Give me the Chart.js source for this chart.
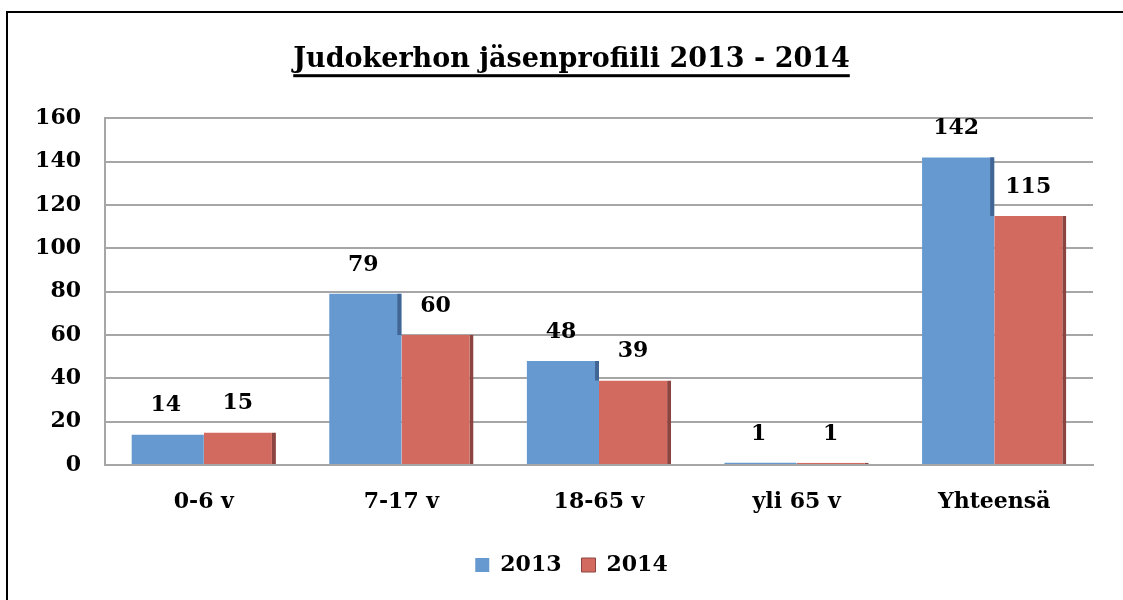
<!DOCTYPE html>
<html lang="fi">

<head>
    <meta charset="UTF-8">
    <title>Judokerhon jäsenprofiili</title>
    <script src="https://cdn.jsdelivr.net/npm/chart.js"></script>
    <style>
        html,
        body {
            margin: 0;
            overflow: hidden;
            background: #fff;
        }

        #jasenet {
            display: block;
        }
    </style>
</head>

<body>
    <canvas id="jasenet" width="1123" height="600"></canvas>
</body>

</html>

<script>
    var otsikko = 'Judokerhon jäsenprofiili 2013 - 2014';
    var ikaryhmat = ['0-6 v', '7-17 v', '18-65 v', 'yli 65 v', 'Yhteensä'];
    var vuodet = ['2013', '2014'];
    var jasenet2013 = [14, 79, 48, 1, 142];
    var jasenet2014 = [15, 60, 39, 1, 115];
    var yMax = 160;
    var yAskel = 20;

    var fontti = "'DejaVu Serif', serif";
    Chart.defaults.font.family = fontti;
    Chart.defaults.color = '#000';

    var sininen = '#6699cf';
    var sininenReuna = '#416594';
    var punainen = '#d36a60';
    var punainenReuna = '#8c4440';

    // musta kehys vasemmalla ja ylhäällä
    var kehys = {
        id: 'kehys',
        beforeDraw: function (chart) {
            var ctx = chart.ctx;
            ctx.save();
            ctx.fillStyle = '#000';
            ctx.fillRect(6, 11, 2, chart.height - 11);
            ctx.fillRect(6, 11, chart.width - 6, 2);
            ctx.restore();
        }
    }

    // alleviivaus otsikon alle
    var alleviivaus = {
        id: 'alleviivaus',
        afterDraw: function (chart) {
            var tb = chart.titleBlock;
            var ctx = chart.ctx;
            var opts = chart.options.plugins.title;
            ctx.save();
            ctx.font = 'bold ' + opts.font.size + 'px ' + fontti;
            var leveys = ctx.measureText(otsikko).width;
            var keski = (tb.left + tb.right) / 2;
            var y = tb.top + opts.padding.top + opts.font.size * 1.2 / 2 + 14;
            ctx.fillStyle = '#000';
            ctx.fillRect(keski - leveys / 2, y, leveys, 3);
            ctx.restore();
        }
    }

    // sinisen pylvään tumma reuna näkyy vain punaisen yläpuolella + arvot
    var arvot = {
        id: 'arvot',
        afterDatasetsDraw: function (chart) {
            var ctx = chart.ctx;
            var m0 = chart.getDatasetMeta(0);
            var m1 = chart.getDatasetMeta(1);
            ctx.save();
            for (var i = 0; i < m0.data.length; i++) {
                var b = m0.data[i];
                var r = m1.data[i];
                if (b.y < r.y) {
                    ctx.fillStyle = sininenReuna;
                    ctx.fillRect(b.x + b.width / 2 - 4, b.y, 4, r.y - b.y);
                }
            }
            ctx.font = 'bold 22px ' + fontti;
            ctx.textAlign = 'center';
            ctx.textBaseline = 'middle';
            ctx.fillStyle = '#000';
            chart.data.datasets.forEach(function (ds, d) {
                chart.getDatasetMeta(d).data.forEach(function (el, i) {
                    ctx.fillText(ds.data[i], el.x - 2, el.y - 29);
                })
            })
            ctx.restore();
        }
    }

    var ctx = document.getElementById('jasenet');
    var kaavio = new Chart(ctx, {
        type: 'bar',
        data: {
            labels: ikaryhmat,
            datasets: [{
                label: vuodet[0],
                data: jasenet2013,
                backgroundColor: sininen,
                borderWidth: 0
            }, {
                label: vuodet[1],
                data: jasenet2014,
                backgroundColor: punainen,
                borderColor: punainenReuna,
                borderWidth: { top: 0, right: 4, bottom: 0, left: 0 }
            }]
        },
        options: {
            responsive: false,
            animation: false,
            // vasen 20 siirtää otsikon ja selitteen keskelle kuten alkuperäisessä
            layout: {
                padding: { top: 13, right: 0, bottom: 14, left: 20 }
            },
            datasets: {
                bar: {
                    categoryPercentage: 0.73,
                    barPercentage: 1
                }
            },
            plugins: {
                tooltip: { enabled: false },
                title: {
                    display: true,
                    text: otsikko,
                    font: { size: 27, weight: 'bold' },
                    color: '#000',
                    padding: { top: 31, bottom: 42 }
                },
                legend: {
                    position: 'bottom',
                    labels: {
                        boxWidth: 14,
                        boxHeight: 14,
                        padding: 20,
                        font: { size: 22, weight: 'bold' },
                        color: '#000'
                    }
                }
            },
            scales: {
                x: {
                    grid: { display: false, drawTicks: false },
                    border: { display: true, color: '#a6a6a6', width: 2 },
                    ticks: {
                        padding: 24,
                        font: { size: 22, weight: 'bold' },
                        color: '#000'
                    },
                    afterFit: function (s) { s.height = 69 }
                },
                y: {
                    min: 0,
                    max: yMax,
                    grid: { color: '#a6a6a6', lineWidth: 2, drawTicks: false },
                    border: { display: true, color: '#a6a6a6', width: 2 },
                    ticks: {
                        stepSize: yAskel,
                        padding: 24,
                        font: { size: 22, weight: 'bold' },
                        color: '#000'
                    },
                    afterFit: function (s) { s.width = 85 }
                },
                oikea: {
                    position: 'right',
                    grid: { display: false },
                    border: { display: false },
                    ticks: { display: false },
                    afterFit: function (s) { s.width = 30 }
                }
            }
        },
        plugins: [kehys, alleviivaus, arvot]
    });
</script>
